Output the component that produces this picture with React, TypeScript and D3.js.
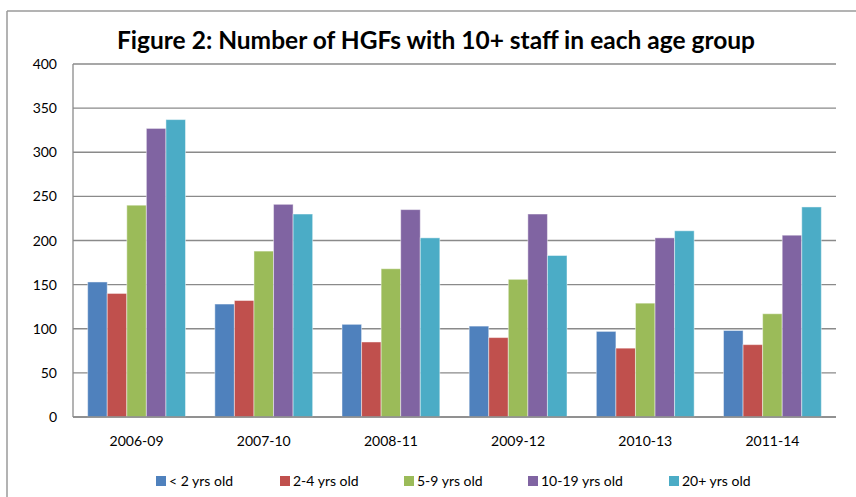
import React from 'react'
import * as d3 from 'd3'

const periods = ['2006-09', '2007-10', '2008-11', '2009-12', '2010-13', '2011-14']
const ageGroups = ['< 2 yrs old', '2-4 yrs old', '5-9 yrs old', '10-19 yrs old', '20+ yrs old']
const underTwo = [153, 128, 105, 103, 97, 98]
const twoToFour = [140, 132, 85, 90, 78, 82]
const fiveToNine = [240, 188, 168, 156, 129, 117]
const tenToNineteen = [327, 241, 235, 230, 203, 206]
const twentyPlus = [337, 230, 203, 183, 211, 238]
const yTicks = [0, 50, 100, 150, 200, 250, 300, 350, 400]
const colors = ['#4F81BD', '#C0504D', '#9BBB59', '#8064A2', '#4BACC6']

const series = [underTwo, twoToFour, fiveToNine, tenToNineteen, twentyPlus]

const width = 856
const height = 497
const plot = { left: 73, right: 836, top: 64, bottom: 417 }
const font = "Lato, 'Open Sans', sans-serif"

export default function App() {
  const x = d3.scaleBand().domain(periods).range([plot.left, plot.right]).paddingInner(0).paddingOuter(0)
  // Excel gap width 150%: 5 bars take 5/6.5 of each category
  const inner = d3
    .scaleBand()
    .domain(ageGroups)
    .range([0, x.bandwidth()])
    .paddingOuter(0.75)
    .paddingInner(0)
  const y = d3.scaleLinear().domain([0, 400]).range([plot.bottom, plot.top])

  const legendX = [156, 280, 404, 528, 669]

  return (
    <svg
      width={width}
      height={height}
      style={{ position: 'absolute', left: 0, top: 0, background: '#fff' }}
      fontFamily={font}
    >
      {/* chart frame (top and left edges visible) */}
      <line x1={7} x2={width} y1={11} y2={11} stroke="#9a9a9a" strokeWidth={1.5} />
      <line x1={7} x2={7} y1={11} y2={height} stroke="#9a9a9a" strokeWidth={1.5} />

      <text
        x={436}
        y={49}
        fontSize={24}
        fontWeight="bold"
        textAnchor="middle"
        textLength={638}
        lengthAdjust="spacingAndGlyphs"
        fill="#000"
      >
        Figure 2: Number of HGFs with 10+ staff in each age group
      </text>

      {/* gridlines */}
      {yTicks.map((t) => (
        <line key={t} x1={plot.left} x2={plot.right} y1={y(t)} y2={y(t)} stroke="#8a8a8a" strokeWidth={1.3} />
      ))}
      {yTicks.map((t) => (
        <text key={'l' + t} x={57} y={y(t) + 5} fontSize={14} textAnchor="end" fill="#000">
          {t}
        </text>
      ))}

      {/* bars */}
      {periods.map((p, i) => (
        <g key={p} transform={`translate(${x(p)},0)`}>
          {series.map((s, j) => (
            <rect
              key={j}
              x={inner(ageGroups[j])}
              y={y(s[i])}
              width={inner.bandwidth()}
              height={y(0) - y(s[i])}
              fill={colors[j]}
              stroke="rgba(255,255,255,0.45)"
              strokeWidth={1}
            />
          ))}
        </g>
      ))}

      {/* axes */}
      <line x1={plot.left} x2={plot.left} y1={plot.top} y2={plot.bottom} stroke="#8a8a8a" strokeWidth={1.3} />
      <line x1={plot.left} x2={plot.right} y1={plot.bottom} y2={plot.bottom} stroke="#8a8a8a" strokeWidth={1.3} />

      {periods.map((p) => (
        <text key={p} x={x(p) + x.bandwidth() / 2} y={446} fontSize={14} textAnchor="middle" fill="#000">
          {p}
        </text>
      ))}

      {/* legend */}
      {ageGroups.map((g, j) => (
        <g key={g}>
          <rect x={legendX[j]} y={476} width={10} height={10} fill={colors[j]} />
          <text x={legendX[j] + 13} y={486} fontSize={14} fill="#000">
            {g}
          </text>
        </g>
      ))}
    </svg>
  )
}
